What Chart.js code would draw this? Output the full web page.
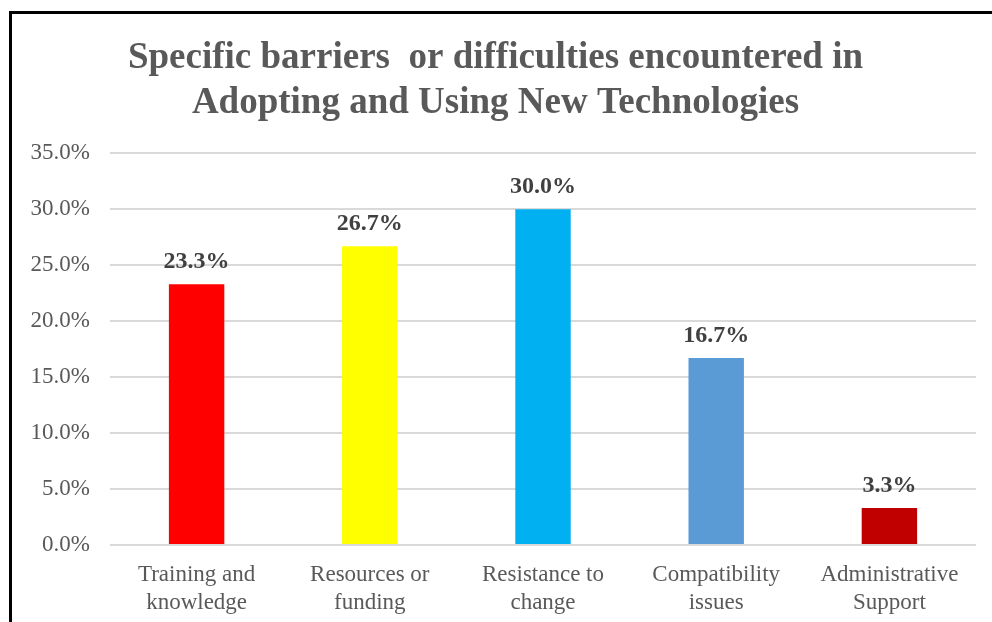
<!DOCTYPE html>
<html>
<head>
<meta charset="utf-8">
<script src="https://cdn.jsdelivr.net/npm/chart.js@4"></script>
<style>
    body { margin: 0; background: #fff; }
    #wrap { position: relative; width: 992px; height: 622px; }
    #frame {
        position: absolute; left: 9px; top: 11px; right: 0; bottom: 0;
        border-left: 3px solid #000; border-top: 3px solid #000;
        pointer-events: none;
    }
</style>
</head>
<body>
<div id="wrap">
    <canvas id="myChart" width="992" height="622"></canvas>
    <div id="frame"></div>
</div>
<script>
// chart data
var categories = [
    ['Training and', 'knowledge'],
    ['Resources or', 'funding'],
    ['Resistance to', 'change'],
    ['Compatibility', 'issues'],
    ['Administrative', 'Support']
];
var values = [23.3, 26.7, 30.0, 16.7, 3.3];
var barColors = ['#FF0000', '#FFFF00', '#00B0F0', '#5B9BD5', '#C00000'];
var yTicks = [0, 5, 10, 15, 20, 25, 30, 35];

var serif = '"Liberation Serif", "Times New Roman", serif';

// value labels above the bars
var barLabels = {
    id: 'barLabels',
    afterDatasetsDraw: function (chart) {
        var ctx = chart.ctx;
        var meta = chart.getDatasetMeta(0);
        ctx.save();
        ctx.font = 'bold 24px ' + serif;
        ctx.fillStyle = '#404040';
        ctx.textAlign = 'center';
        ctx.textBaseline = 'alphabetic';
        meta.data.forEach(function (bar, i) {
            ctx.fillText(values[i].toFixed(1) + '%', bar.x, bar.y - 16);
        });
        ctx.restore();
    }
};

var ctx = document.getElementById('myChart').getContext('2d');
var myChart = new Chart(ctx, {
    type: 'bar',
    data: {
        labels: categories,
        datasets: [{
            data: values,
            backgroundColor: barColors,
            barPercentage: 0.32,
            categoryPercentage: 1
        }]
    },
    options: {
        responsive: false,
        animation: false,
        layout: { padding: { top: 12, left: 15, right: 16, bottom: 0 } },
        plugins: {
            legend: { display: false },
            tooltip: { enabled: false },
            title: {
                display: true,
                text: ['Specific barriers  or difficulties encountered in', 'Adopting and Using New Technologies'],
                color: '#595959',
                font: { family: serif, size: 37, weight: 'bold', lineHeight: 1.22 },
                padding: { top: 24, bottom: 27 }
            }
        },
        scales: {
            x: {
                afterFit: function (scale) { scale.height = 77; },
                grid: { display: false },
                border: { display: false },
                ticks: {
                    color: '#595959',
                    font: { family: serif, size: 23, lineHeight: 1.22 },
                    padding: 8,
                    maxRotation: 0,
                    autoSkip: false
                }
            },
            y: {
                min: 0,
                max: 35,
                afterFit: function (scale) { scale.width = 95; },
                afterBuildTicks: function (scale) {
                    scale.ticks = yTicks.map(function (v) { return { value: v }; });
                },
                grid: { color: '#d9d9d9', lineWidth: 2, drawTicks: false },
                border: { display: false },
                ticks: {
                    color: '#595959',
                    font: { family: serif, size: 23 },
                    padding: 20,
                    callback: function (v) { return v.toFixed(1) + '%'; }
                }
            }
        }
    },
    plugins: [barLabels]
});
</script>
</body>
</html>
